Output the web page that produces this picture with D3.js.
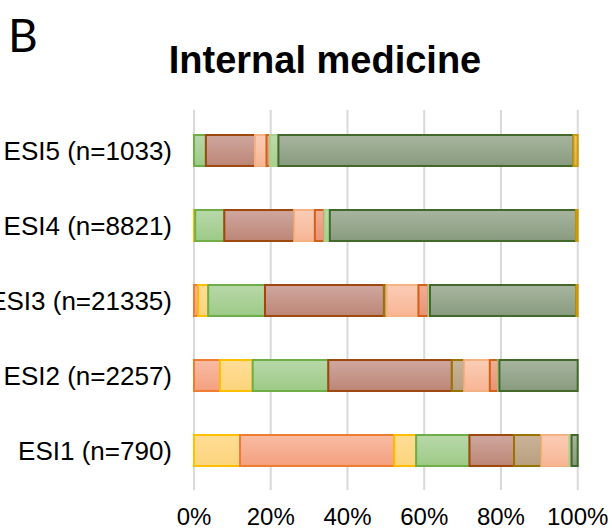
<!DOCTYPE html>
<html><head><meta charset="utf-8">
<script src="https://cdn.jsdelivr.net/npm/d3@7"></script>
<style>html,body{margin:0;padding:0;background:#fff;overflow:hidden}</style>
</head><body><svg id="c" width="613" height="529"></svg>
<script>
const categories = ["ESI5 (n=1033)", "ESI4 (n=8821)", "ESI3 (n=21335)", "ESI2 (n=2257)", "ESI1 (n=790)"];
const seriesNames = ["s1","s2","s3","s4","s5","s6","s7","s8","s9","s10","s11"];
// percentages per series, in category order above
const s1  = [0,    0,    0,    0,    12.0];
const s2  = [0,    0,    1.1,  6.8,  40.2];
const s3  = [0,    0.3,  2.6,  8.5,  5.7];
const s4  = [3.1,  7.6,  14.8, 19.7, 13.9];
const s5  = [12.8, 18.2, 31.0, 32.2, 11.6];
const s6  = [0,    0,    0.7,  3.2,  7.1];
const s7  = [3.0,  5.4,  8.3,  6.7,  7.4];
const s8  = [0.9,  2.5,  2.6,  2.2,  0];
const s9  = [2.2,  1.4,  0.4,  0.3,  0.5];
const s10 = [76.9, 64.2, 38.2, 20.4, 1.6];
const s11 = [1.1,  0.4,  0.3,  0,    0];
const xTicks = [0, 20, 40, 60, 80, 100];
const title = "Internal medicine";
const panel = "B";

const seriesValues = [s1,s2,s3,s4,s5,s6,s7,s8,s9,s10,s11];
const fills = [
  ["#FFDD96","#FCD47C"],["#F8BCA3","#F4A07F"],["#FFDD96","#FCD47C"],["#B8D8A9","#9DCA86"],
  ["#CFA79F","#BD8676"],["#CAB39A","#B89F7E"],["#FBCDB6","#F7B594"],["#F2AD95","#EA9276"],
  ["#BCDBA8","#A7CF8E"],["#A8B5A0","#889B7E"],["#EDC870","#E0B24A"]];
const strokes = ["#FFC000","#ED7D31","#FFC000","#70AD47","#9E480E","#997300","#F4B183","#D0611A","#A9D18E","#43682B","#C99A0C"];

const table = categories.map((c,i)=>{const o={cat:c};seriesNames.forEach((s,j)=>o[s]=seriesValues[j][i]);return o;});
const stacked = d3.stack().keys(seriesNames)(table);

const svg = d3.select("#c");
const defs = svg.append("defs");
seriesNames.forEach((s,j)=>{
  const g = defs.append("linearGradient").attr("id","g"+j).attr("x1",0).attr("y1",0).attr("x2",0).attr("y2",1);
  g.append("stop").attr("offset","0%").attr("stop-color",fills[j][0]);
  g.append("stop").attr("offset","100%").attr("stop-color",fills[j][1]);
});

const x = d3.scaleLinear().domain([0,100]).range([194, 577.7]);
const y = d3.scaleBand().domain(categories).range([113, 488]).paddingInner(0.587).paddingOuter(0.2935);

// gridlines
svg.append("g").selectAll("line").data(xTicks).join("line")
  .attr("x1",d=>x(d)).attr("x2",d=>x(d)).attr("y1",110).attr("y2",490)
  .attr("stroke","#D9D9D9").attr("stroke-width",2);

// bars
svg.append("g").selectAll("g").data(stacked).join("g")
  .attr("fill",(d,j)=>`url(#g${j})`).attr("stroke",(d,j)=>strokes[j])
  .selectAll("rect").data(d=>d.filter(p=>p[1]-p[0]>0)).join("rect")
  .attr("x",p=>x(p[0])).attr("width",p=>x(p[1])-x(p[0]))
  .attr("y",p=>y(p.data.cat)).attr("height",y.bandwidth())
  .attr("stroke-width",2);

// y labels
svg.append("g").selectAll("text").data(categories).join("text")
  .attr("x",172).attr("y",d=>y(d)+y.bandwidth()/2).attr("dy","0.35em")
  .attr("text-anchor","end").attr("font-family","Liberation Sans, Arial, sans-serif")
  .attr("font-size",26).attr("fill","#000").text(d=>d);

// x tick labels
svg.append("g").selectAll("text").data(xTicks).join("text")
  .attr("x",d=>x(d)).attr("y",525).attr("text-anchor","middle")
  .attr("font-family","Liberation Sans, Arial, sans-serif").attr("font-size",24)
  .attr("fill","#000").text(d=>d+"%");

svg.append("text").attr("x",325).attr("y",73).attr("text-anchor","middle")
  .attr("font-family","Liberation Sans, Arial, sans-serif").attr("font-weight","bold")
  .attr("font-size",38).attr("fill","#000").text(title);

svg.append("text").attr("x",8).attr("y",52)
  .attr("font-family","Lato, Open Sans, sans-serif").attr("font-size",46)
  .attr("fill","#000").text(panel);
</script></body></html>
